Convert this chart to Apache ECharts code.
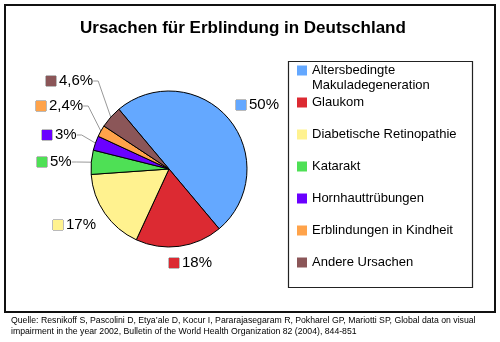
<!DOCTYPE html>
<html>
<head>
<meta charset="utf-8">
<script src="https://cdn.jsdelivr.net/npm/echarts@6/dist/echarts.min.js"></script>
<style>
html,body{margin:0;padding:0;background:#fff;}
#chart{width:500px;height:342px;}
</style>
</head>
<body>
<div id="chart"></div>
<script>
// ---- data ----
const categories = [
  'Altersbedingte Makuladegeneration',
  'Glaukom',
  'Diabetische Retinopathie',
  'Katarakt',
  'Hornhauttrübungen',
  'Erblindungen in Kindheit',
  'Andere Ursachen'
];
const shares = [50, 18, 17, 5, 3, 2.4, 4.6];
const titleText = 'Ursachen für Erblindung in Deutschland';
const sourceText = 'Quelle: Resnikoff S, Pascolini D, Etya\u2019ale D, Kocur I, Pararajasegaram R, Pokharel GP, Mariotti SP, Global data on visual\nimpairment in the year 2002, Bulletin of the World Health Organization 82 (2004), 844-851';

// ---- styles ----
const colors = ['#64a8ff', '#dc2a32', '#fff28f', '#4ee055', '#6a00ff', '#ffa34a', '#8b5658'];
const labelPos = [[236,105],[169,263],[53,225],[37,162],[42,135],[36,106],[46,81]];
const showLine = [false,false,false,true,true,true,true];
const FONT = '"Liberation Sans", Arial, sans-serif';

const rich = { t: { fontSize: 15, fontFamily: FONT, color: '#000', padding: [0,0,0,3], verticalAlign: 'middle' } };
colors.forEach((c, i) => {
  rich['s' + i] = { width: 10, height: 10, backgroundColor: c, borderColor: '#777', borderWidth: 0.5, verticalAlign: 'middle' };
});

const chart = echarts.init(document.getElementById('chart'), null, { renderer: 'canvas' });
chart.setOption({
  animation: false,
  backgroundColor: '#fff',
  color: colors,
  title: [
    { text: titleText, left: 80, top: 20, padding: 0,
      textStyle: { fontSize: 17, fontWeight: 'bold', fontFamily: FONT, color: '#000' } },
    { text: sourceText, left: 11, top: 315, padding: 0,
      textStyle: { fontSize: 8.7, fontWeight: 'normal', fontFamily: FONT, color: '#000', lineHeight: 11 } }
  ],
  graphic: [
    { type: 'rect', shape: { x: 5, y: 5, width: 490, height: 307 }, style: { fill: 'none', stroke: '#111', lineWidth: 2 }, z: 0 },
    { type: 'rect', shape: { x: 288.5, y: 61.5, width: 184, height: 226 }, style: { fill: 'none', stroke: '#222', lineWidth: 1.2 }, z: 0 }
  ],
  legend: [
    { data: [categories[0]], orient: 'vertical', left: 297, top: 48, padding: 0,
      itemWidth: 10, itemHeight: 10, icon: 'rect', selectedMode: false,
      itemStyle: { borderWidth: 0 },
      formatter: n => '\n' + n.replace(' ', '\n'),
      textStyle: { fontSize: 13, fontFamily: FONT, color: '#000', lineHeight: 15 } },
    { data: categories.slice(1), orient: 'vertical', left: 297, top: 95, padding: 0, itemGap: 17,
      itemWidth: 10, itemHeight: 10, icon: 'rect', selectedMode: false,
      itemStyle: { borderWidth: 0 },
      textStyle: { fontSize: 13, fontFamily: FONT, color: '#000', lineHeight: 15 } }
  ],
  series: [{
    type: 'pie',
    center: [169, 169],
    radius: 78,
    startAngle: 130,
    clockwise: true,
    avoidLabelOverlap: false,
    itemStyle: { borderColor: '#000', borderWidth: 1 },
    label: {
      show: true,
      position: 'outside',
      formatter: p => '{s' + p.dataIndex + '|}{t|' + String(p.value).replace('.', ',') + '%}',
      rich: rich
    },
    labelLine: { show: true, length: 10, length2: 5, lineStyle: { color: '#999', width: 1 } },
    labelLayout: p => ({ x: labelPos[p.dataIndex][0], y: labelPos[p.dataIndex][1], align: 'left', verticalAlign: 'middle' }),
    emphasis: { disabled: true },
    data: categories.map((n, i) => ({ name: n, value: shares[i], labelLine: { show: showLine[i] } }))
  }]
});
</script>
</body>
</html>
